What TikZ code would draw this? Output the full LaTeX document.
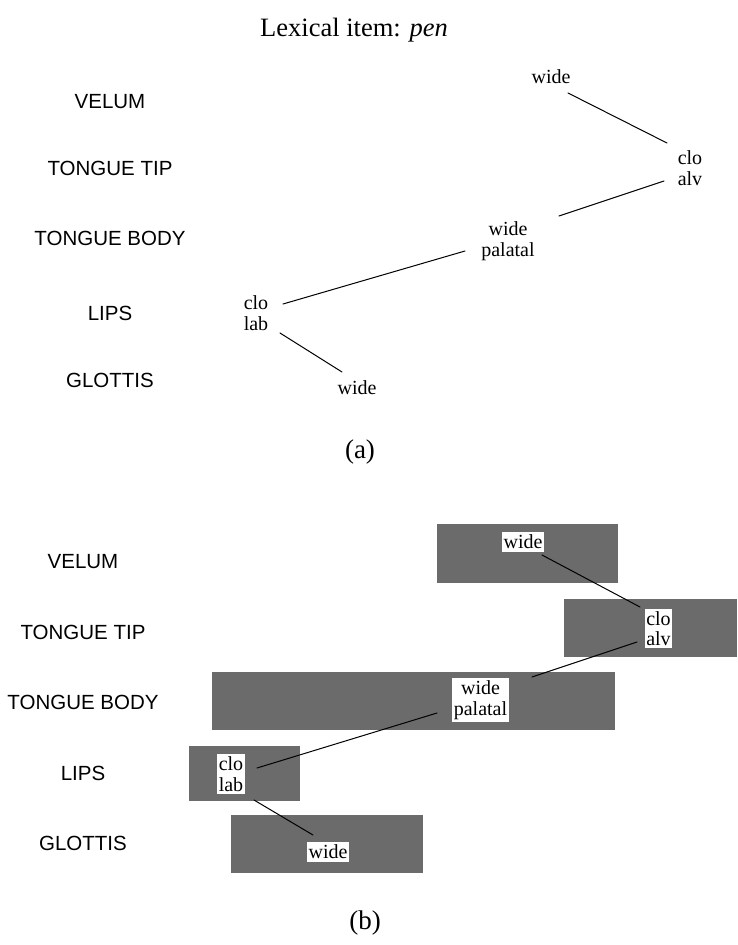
\documentclass[tikz,border=0pt]{standalone}
\usepackage{fontspec}
\setmainfont{Liberation Serif}
\setsansfont{Liberation Sans}
\usetikzlibrary{positioning,calc}
\definecolor{gestgray}{gray}{0.42}

\begin{document}
\begin{tikzpicture}[x=1pt,y=-1pt,line join=round,line cap=round,
    tier/.style={font=\sffamily\fontsize{20.5}{22}\selectfont},
    gest/.style={font=\fontsize{20}{20.5}\selectfont,align=center,inner sep=1.5pt},
    gestlab/.style={gest,fill=white,inner xsep=1.5pt,inner ysep=2.5pt},
    gestbox/.style={fill=gestgray},
    link/.style={line width=1pt,black}]
  \useasboundingbox (0,0) rectangle (737,945);
  \node[font=\fontsize{26.5}{30}\selectfont] (title) at (354,30) {Lexical item: \textit{pen}};

  % (a) gestural score, tiers only
  \node[tier] (velA) at (110,102) {VELUM};
  \node[tier] (ttA) at (110,168) {TONGUE TIP};
  \node[tier] (tbA) at (110,238) {TONGUE BODY};
  \node[tier] (lipA) at (110,313) {LIPS};
  \node[tier] (gloA) at (110,380) {GLOTTIS};

  \node[gest] (va) at (551,77) {wide};
  \node[gest] (ca) at (690,168) {clo\\alv};
  \node[gest] (pa) at (508,241) {wide\\palatal};
  \node[gest] (la) at (256,313) {clo\\lab};
  \node[gest] (ga) at (357,388) {wide};

  \draw[link] ([shift={(17,16)}]va.center) -- ([shift={(-23,-25)}]ca.center);
  \draw[link] ([shift={(-26,13)}]ca.center) -- ([shift={(51,-25)}]pa.center);
  \draw[link] ([shift={(-43,10)}]pa.center) -- ([shift={(27,-9)}]la.center);
  \draw[link] ([shift={(24,20)}]la.center) -- ([shift={(-15,-16)}]ga.center);

  \node[font=\fontsize{27}{30}\selectfont] (capA) at (360,452) {(a)};

  % (b) same score with activation intervals
  \node[tier] (velB) at (83,562) {VELUM};
  \node[tier] (ttB) at (83,632) {TONGUE TIP};
  \node[tier] (tbB) at (83,702) {TONGUE BODY};
  \node[tier] (lipB) at (83,773) {LIPS};
  \node[tier] (gloB) at (83,843) {GLOTTIS};

  \fill[gestbox] (437,524) rectangle (618,583);
  \fill[gestbox] (564,599) rectangle (737,657);
  \fill[gestbox] (212,672) rectangle (615,730);
  \fill[gestbox] (189,746) rectangle (300,801);
  \fill[gestbox] (231,815) rectangle (423,873);

  \node[gestlab] (vb) at (523,542) {wide};
  \node[gestlab] (cb) at (658.5,628.5) {clo\\alv};
  \node[gestlab] (pb) at (480.5,700) {wide\\palatal};
  \node[gestlab] (lb) at (231,774) {clo\\lab};
  \node[gestlab] (gb) at (328,852) {wide};

  \draw[link] ([shift={(19,13)}]vb.center) -- ([shift={(-18.5,-21.5)}]cb.center);
  \draw[link] ([shift={(-21.5,13.5)}]cb.center) -- ([shift={(51.5,-23)}]pb.center);
  \draw[link] ([shift={(-43.5,13)}]pb.center) -- ([shift={(26,-6)}]lb.center);
  \draw[link] ([shift={(23,26)}]lb.center) -- ([shift={(-15,-17)}]gb.center);

  \node[font=\fontsize{27}{30}\selectfont] (capB) at (365,923) {(b)};
\end{tikzpicture}
\end{document}
